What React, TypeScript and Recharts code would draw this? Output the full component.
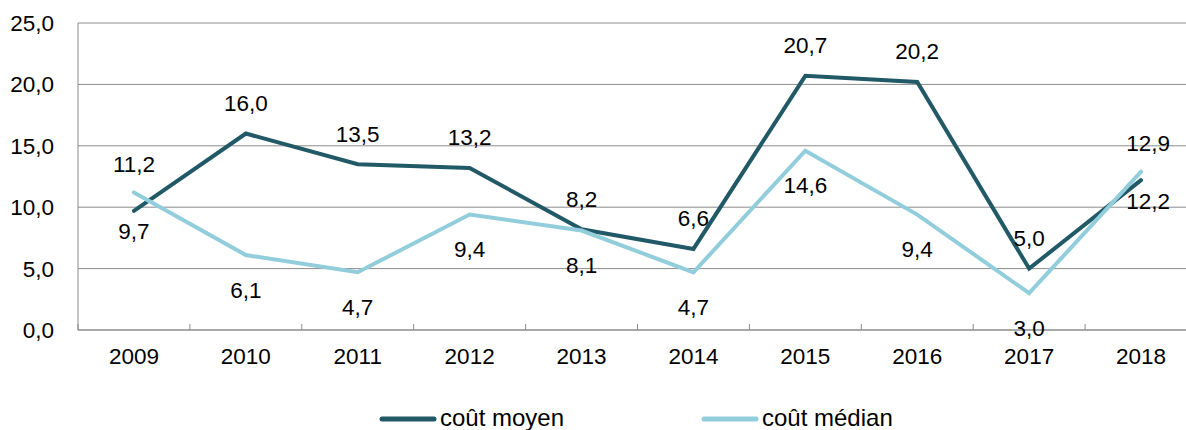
import React from "react";
import { LineChart, Line, XAxis, YAxis, CartesianGrid, Legend } from "recharts";

const years = ["2009", "2010", "2011", "2012", "2013", "2014", "2015", "2016", "2017", "2018"];
const coutMoyen = [9.7, 16.0, 13.5, 13.2, 8.2, 6.6, 20.7, 20.2, 5.0, 12.2];
const coutMedian = [11.2, 6.1, 4.7, 9.4, 8.1, 4.7, 14.6, 9.4, 3.0, 12.9];
const yTicks = [0, 5, 10, 15, 20, 25];
const seriesNames = ["coût moyen", "coût médian"];

const DARK = "#215967";
const LIGHT = "#92cddc";
const GRID = "#8c8c8c";
const FONT = "'Liberation Sans', Arial, sans-serif";
const FS = 22.5;

const CHART_W = 1210;
const CHART_H = 430;
const PLOT_LEFT = 78;
const PLOT_RIGHT = 1197;
const HALF_BAND = (PLOT_RIGHT - PLOT_LEFT) / years.length / 2;

const data = years.map((year, i) => ({ year, moyen: coutMoyen[i], median: coutMedian[i] }));

const fmt = (v: number) => v.toFixed(1).replace(".", ",");

// label goes above the point when this series is the higher one, below otherwise
const makeLabel = (self: number[], other: number[], up: number, down: number) => (props: any) => {
  const { x, y, value, index } = props;
  const above = self[index] >= other[index];
  // last labels get nudged right like the original
  const dx = index === self.length - 1 ? 7 : 0;
  return (
    <text
      x={x + dx}
      y={y + (above ? -up : down)}
      textAnchor="middle"
      dominantBaseline="central"
      fontSize={FS}
      fontFamily={FONT}
      fill="#000"
    >
      {fmt(value)}
    </text>
  );
};

const XTick = (props: any) => {
  const { x, y, payload } = props;
  return (
    <g>
      <line x1={x - HALF_BAND} x2={x - HALF_BAND} y1={y - 6} y2={y} stroke={GRID} strokeWidth={1} />
      <text x={x} y={y + 34} textAnchor="middle" fontSize={FS} fontFamily={FONT} fill="#000">
        {payload.value}
      </text>
    </g>
  );
};

const legendLeft = [379, 701];

const LegendContent = (props: any) => {
  const items = props.payload || [];
  return (
    <div style={{ position: "relative", height: 40, fontFamily: FONT, fontSize: 24, color: "#000" }}>
      {items.map((item: any, i: number) => (
        <div
          key={item.value}
          style={{ position: "absolute", left: legendLeft[i], top: 19, display: "flex", alignItems: "center" }}
        >
          <svg width={58} height={10}>
            <line x1={3} y1={6} x2={55} y2={6} stroke={item.color} strokeWidth={5} strokeLinecap="round" />
          </svg>
          <span style={{ marginLeft: 3, lineHeight: "18px", whiteSpace: "nowrap" }}>{item.value}</span>
        </div>
      ))}
    </div>
  );
};

export default function App() {
  return (
    <div style={{ position: "absolute", left: 0, top: 0, width: 1186, height: 430, overflow: "hidden", background: "#fff" }}>
      <LineChart
        width={CHART_W}
        height={CHART_H}
        data={data}
        margin={{ top: 23, right: CHART_W - PLOT_RIGHT, left: 0, bottom: 0 }}
      >
        <CartesianGrid vertical={false} stroke={GRID} strokeWidth={1} />
        <XAxis
          dataKey="year"
          interval={0}
          height={60}
          padding={{ left: HALF_BAND, right: HALF_BAND }}
          tickSize={0}
          tickMargin={0}
          tick={<XTick />}
          axisLine={{ stroke: GRID, strokeWidth: 1 }}
        />
        <YAxis
          width={PLOT_LEFT}
          domain={[0, 25]}
          ticks={yTicks}
          tickFormatter={fmt}
          tickSize={0}
          tickMargin={24}
          tickLine={false}
          axisLine={{ stroke: GRID, strokeWidth: 1 }}
          tick={{ fill: "#000", fontSize: FS, fontFamily: FONT }}
        />
        <Legend verticalAlign="bottom" height={40} content={<LegendContent />} />
        <Line
          name={seriesNames[0]}
          dataKey="moyen"
          type="linear"
          stroke={DARK}
          strokeWidth={4}
          strokeLinecap="round"
          dot={false}
          activeDot={false}
          isAnimationActive={false}
          label={makeLabel(coutMoyen, coutMedian, 30, 21)}
        />
        <Line
          name={seriesNames[1]}
          dataKey="median"
          type="linear"
          stroke={LIGHT}
          strokeWidth={4}
          strokeLinecap="round"
          dot={false}
          activeDot={false}
          isAnimationActive={false}
          label={makeLabel(coutMedian, coutMoyen, 28, 35)}
        />
      </LineChart>
    </div>
  );
}
